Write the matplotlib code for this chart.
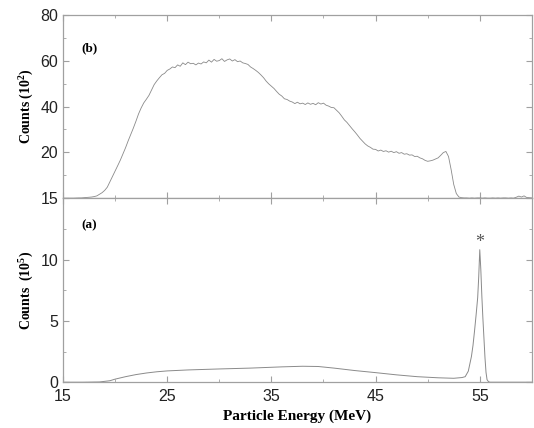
import numpy as np
import matplotlib
matplotlib.use('Agg')
import matplotlib.pyplot as plt
from matplotlib.ticker import FixedLocator

plt.rcParams['mathtext.fontset'] = 'custom'
plt.rcParams['mathtext.rm'] = 'Liberation Serif'
plt.rcParams['mathtext.bf'] = 'Liberation Serif:bold'

# panel (b): spectrum, 0.25 MeV bins from 15 to 60 MeV, counts in 10^2
energy_b = np.arange(15.0, 60.01, 0.25)
counts_b = [
    0.0, 0.0, 0.0, 0.0,
    0.0, 0.05, 0.1, 0.1,
    0.2, 0.3, 0.4, 0.5,
    0.7, 1.0, 1.7, 2.4,
    3.4, 4.8, 7.2, 9.5,
    11.8, 14.2, 16.6, 19.3,
    22.0, 25.0, 27.8, 30.6,
    33.6, 36.8, 39.4, 41.6,
    43.2, 44.9, 47.3, 49.6,
    51.2, 52.6, 53.9, 54.5,
    55.8, 56.4, 57.3, 57.0,
    58.2, 57.6, 59.1, 58.3,
    59.4, 58.7, 58.9, 58.2,
    59.0, 58.6, 59.5, 59.1,
    60.3, 59.4, 60.6, 59.8,
    60.1, 60.9, 59.7, 60.4,
    60.8, 59.9, 60.5, 59.6,
    59.9, 59.1, 58.8, 58.4,
    57.3, 56.6, 55.8, 54.9,
    53.8, 52.6, 51.1, 49.9,
    48.9, 47.9, 46.6, 45.4,
    44.6, 43.4, 43.1, 42.4,
    42.0, 41.3, 41.9, 41.2,
    41.5, 40.9, 41.6, 41.0,
    41.4, 40.8, 41.7, 41.1,
    41.5, 40.6, 40.2, 39.6,
    39.5, 38.4, 37.3, 35.8,
    34.2, 33.1, 31.7, 30.3,
    29.0, 27.6, 26.1, 24.9,
    23.7, 22.8, 22.2, 21.4,
    21.3, 20.6, 21.0, 20.4,
    20.7, 20.1, 20.5, 19.9,
    20.3, 19.6, 19.9, 19.2,
    19.4, 18.8, 18.9, 18.2,
    18.3, 17.6, 17.2, 16.5,
    16.1, 16.3, 16.6, 17.1,
    17.6, 18.7, 19.9, 20.4,
    18.2, 12.5, 6.0, 2.0,
    0.5, 0.2, 0.1, 0.1,
    0.0, 0.1, 0.0, 0.1,
    0.1, 0.0, 0.1, 0.0,
    0.0, 0.1, 0.0, 0.1,
    0.0, 0.1, 0.1, 0.0,
    0.1, 0.0, 0.4, 0.9,
    0.5, 1.0, 0.3, 0.2,
    0.1,
]

# panel (a): spectrum with elastic peak, counts in 10^5
energy_a = [15, 17, 18.5, 19.5, 20, 21, 22, 23, 24, 25, 27, 30, 33, 36, 38,
            39.5, 41, 43, 45, 47, 49, 51, 52.5, 53.3, 53.6, 53.9, 54.05, 54.2,
            54.35, 54.5, 54.65, 54.8, 54.9, 55.0, 55.1, 55.2, 55.3, 55.4, 55.5,
            55.6, 55.7, 55.85, 56.0, 57, 60]
counts_a = [0.0, 0.0, 0.02, 0.12, 0.25, 0.45, 0.62, 0.75, 0.85, 0.92, 1.0,
            1.08, 1.15, 1.25, 1.3, 1.28, 1.15, 0.95, 0.78, 0.6, 0.45, 0.36,
            0.32, 0.38, 0.45, 0.9, 1.5, 2.1, 3.0, 4.2, 5.5, 6.9, 8.6, 10.8,
            9.2, 7.0, 5.2, 3.6, 2.0, 0.8, 0.2, 0.03, 0.0, 0.0, 0.0]

xticks = [15, 25, 35, 45, 55]
xminor = [20, 30, 40, 50]

line_col = '#8a8a8a'
spine_col = '#a0a0a0'
serif = 'Liberation Serif'
sans = 'Liberation Sans'

fig = plt.figure(figsize=(5.34, 4.28), dpi=100)
ax_b = fig.add_axes([0.118, 0.537, 0.878, 0.428])
ax_a = fig.add_axes([0.118, 0.107, 0.878, 0.430])

ax_b.plot(energy_b, counts_b, color=line_col, lw=0.6)
ax_a.plot(energy_a, counts_a, color=line_col, lw=0.7)

ax_b.set_ylim(0, 80)
ax_a.set_ylim(0, 15)
for ax in (ax_a, ax_b):
    ax.set_xlim(15, 60)
    ax.xaxis.set_major_locator(FixedLocator(xticks))
    ax.xaxis.set_minor_locator(FixedLocator(xminor))
    ax.tick_params(which='both', direction='in', top=True, right=True,
                   color=spine_col, labelsize=11.5, labelcolor='#222222')
    ax.tick_params(which='major', length=4)
    ax.tick_params(which='minor', length=2.5)
    ax.tick_params(axis='x', pad=5)
    for s in ax.spines.values():
        s.set_color(spine_col)
        s.set_linewidth(0.9)

ax_b.yaxis.set_major_locator(FixedLocator([20, 40, 60, 80]))
ax_b.yaxis.set_minor_locator(FixedLocator([10, 30, 50, 70]))
ax_b.tick_params(axis='x', labelbottom=False)
ax_a.yaxis.set_major_locator(FixedLocator([0, 5, 10, 15]))
ax_a.yaxis.set_minor_locator(FixedLocator([2.5, 7.5, 12.5]))
for ax in (ax_a, ax_b):
    for lab in ax.get_xticklabels() + ax.get_yticklabels():
        lab.set_family(sans)

ax_b.set_ylabel(r'Counts (10$^{\mathbf{2}}$)', family=serif, fontweight='bold', fontsize=10)
ax_a.set_ylabel(r'Counts  (10$^{\mathbf{5}}$)', family=serif, fontweight='bold', fontsize=10)
ax_a.set_xlabel('Particle Energy (MeV)', family=serif, fontweight='bold', fontsize=11)
fig.align_ylabels([ax_a, ax_b])

ax_b.text(0.04, 0.82, '(b)', transform=ax_b.transAxes, family=serif,
          fontweight='bold', fontsize=9.5, va='center')
ax_a.text(0.04, 0.85, '(a)', transform=ax_a.transAxes, family=serif,
          fontweight='bold', fontsize=9.5, va='center')
ax_a.text(55.0, 11.4, '*', ha='center', va='center', family=serif,
          fontsize=13, color='#555555')

fig.savefig('out.png', dpi=100)
